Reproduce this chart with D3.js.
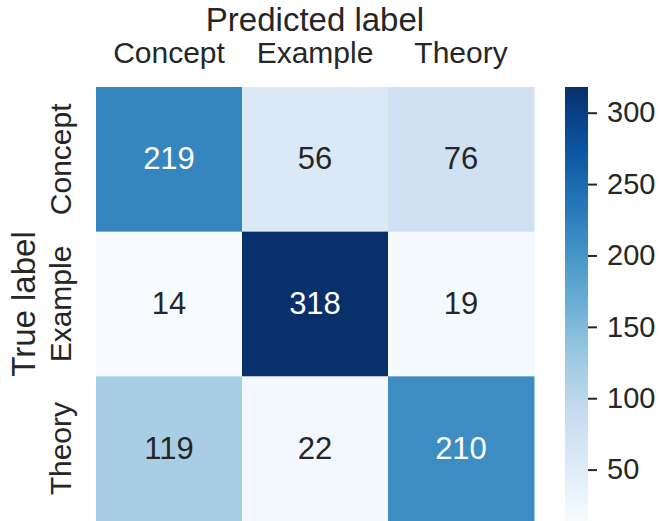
<!DOCTYPE html>
<html><head><meta charset="utf-8">
<script src="https://cdn.jsdelivr.net/npm/d3@7"></script>
<style>body{margin:0;background:#fff}svg{display:block}text{font-family:"Liberation Sans",Arial,sans-serif;fill:#262626}</style>
</head><body><svg id="c" width="662" height="521"></svg>
<script>
const categories = ["Concept", "Example", "Theory"];
const rowConcept = [219, 56, 76];
const rowExample = [14, 318, 19];
const rowTheory = [119, 22, 210];
const cbarTicks = [50, 100, 150, 200, 250, 300];
const xTitle = "Predicted label";
const yTitle = "True label";
const blues = ["#f7fbff","#deebf7","#c6dbef","#9ecae1","#6baed6","#4292c6","#2171b5","#08519c","#08306b"];

const rows = [rowConcept, rowExample, rowTheory];
const cells = [];
rows.forEach((r, i) => r.forEach((v, j) => cells.push({row: categories[i], col: categories[j], v})));
const vmin = d3.min(cells, d => d.v), vmax = d3.max(cells, d => d.v);

const svg = d3.select("#c");
const L = 96, R = 534, T = 87, B = 521;
const x = d3.scaleBand().domain(categories).range([L, R]);
const y = d3.scaleBand().domain(categories).range([T, B]);
const interp = d3.piecewise(d3.interpolateRgb, blues);
const color = d3.scaleSequential(interp).domain([vmin, vmax]);

svg.append("g").selectAll("rect").data(cells).join("rect")
  .attr("x", d => x(d.col)).attr("y", d => y(d.row))
  .attr("width", x.bandwidth() + 0.5).attr("height", y.bandwidth() + 0.5)
  .attr("fill", d => color(d.v));

function lum(c) {
  const rgb = d3.rgb(c);
  const f = u => { u /= 255; return u <= 0.03928 ? u / 12.92 : Math.pow((u + 0.055) / 1.055, 2.4); };
  return 0.2126 * f(rgb.r) + 0.7152 * f(rgb.g) + 0.0722 * f(rgb.b);
}
svg.append("g").selectAll("text").data(cells).join("text")
  .attr("x", d => x(d.col) + x.bandwidth() / 2)
  .attr("y", d => y(d.row) + y.bandwidth() / 2 + 10)
  .attr("text-anchor", "middle")
  .style("font-size", "31px")
  .style("fill", d => lum(color(d.v)) > 0.408 ? "#262626" : "#ffffff")
  .text(d => d.v);

// x tick labels (top)
svg.append("g").selectAll("text").data(categories).join("text")
  .attr("x", d => x(d) + x.bandwidth() / 2).attr("y", 62.5)
  .attr("text-anchor", "middle").style("font-size", "30px").text(d => d);
svg.append("text").attr("x", (L + R) / 2).attr("y", 31)
  .attr("text-anchor", "middle").style("font-size", "33px").text(xTitle);

// y tick labels
svg.append("g").selectAll("text").data(categories).join("text")
  .attr("transform", d => `translate(70.5,${y(d) + y.bandwidth() / 2}) rotate(-90)`)
  .attr("text-anchor", "middle").style("font-size", "30px").text(d => d);
svg.append("text").attr("transform", `translate(35,${(T + B) / 2}) rotate(-90)`)
  .attr("text-anchor", "middle").style("font-size", "33px").text(yTitle);

// colorbar
const cx0 = 565, cx1 = 588;
const cy = d3.scaleLinear().domain([vmin, vmax]).range([B, T]);
const defs = svg.append("defs");
const grad = defs.append("linearGradient").attr("id", "g").attr("x1", 0).attr("y1", 1).attr("x2", 0).attr("y2", 0);
d3.range(0, 1.0001, 0.05).forEach(t => grad.append("stop").attr("offset", t).attr("stop-color", interp(t)));
svg.append("rect").attr("x", cx0).attr("y", T).attr("width", cx1 - cx0).attr("height", B - T).attr("fill", "url(#g)");
const axis = d3.axisRight(cy).tickValues(cbarTicks).tickSize(9).tickPadding(10);
const ag = svg.append("g").attr("transform", `translate(${cx1},0)`).call(axis);
ag.select(".domain").remove();
ag.selectAll("line").attr("stroke", "#262626").attr("stroke-width", 2);
ag.selectAll("text").style("font-size", "29px").attr("fill", "#262626");
</script></body></html>
